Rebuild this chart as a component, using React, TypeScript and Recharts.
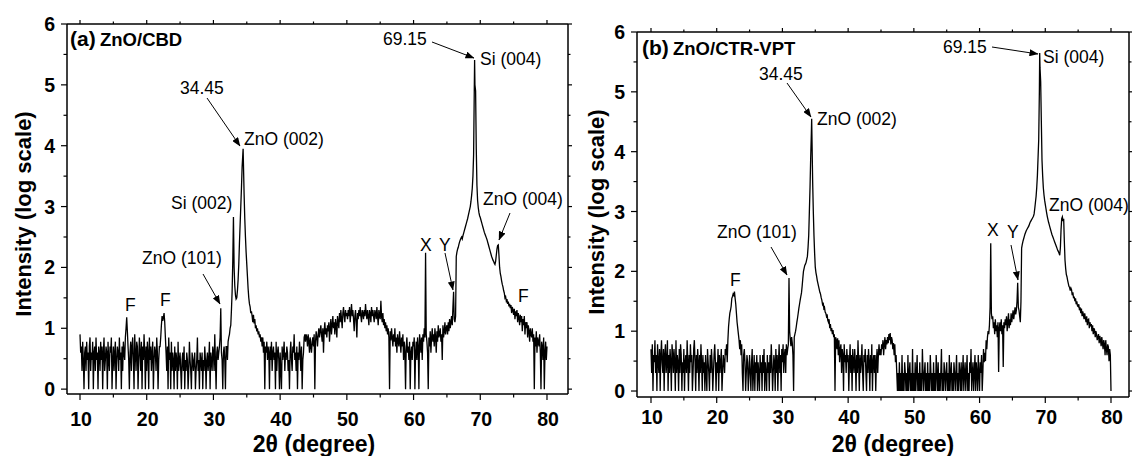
import React from 'react';
import { LineChart, Line, XAxis, YAxis } from 'recharts';

// ---- axis ticks ----
const xTicks = [10, 15, 20, 25, 30, 35, 40, 45, 50, 55, 60, 65, 70, 75, 80];
const yTicks = [0, 0.5, 1, 1.5, 2, 2.5, 3, 3.5, 4, 4.5, 5, 5.5, 6];
const xMajorLabels = [10, 20, 30, 40, 50, 60, 70, 80];
const yMajorLabels = [0, 1, 2, 3, 4, 5, 6];
const blockStarts = [10, 20, 30, 40, 50, 60, 70];

// ---- Panel (a) ZnO/CBD : log10 intensity on a 0.1° 2θ grid ----
const a10 = [
  .9, .6, .7, .3, .78, .48, 0, .6, .7, .3,
  .78, .48, .6, 0, .7, .85, .3, .6, .48, .78,
  0, .6, .7, .3, .85, .48, .6, 0, .7, .6,
  .3, .78, .48, .7, 0, .6, .85, .3, .48, .7,
  .6, 0, .78, .48, .3, .7, .6, .85, 0, .48,
  .7, .3, .6, .78, 0, .48, .7, .6, .3, .85,
  .48, .6, 0, .7, .3, .78, .6, .48, .85, 1.0,
  1.18, .95, .7, .48, 0, .6, .78, .3, .7, .85,
  .48, 0, .9, .6, .3, .78, .7, 0, .48, .85,
  .6, .3, .78, 0, .7, .48, .9, .6, 0, .7,
];
const a20 = [
  .3, .78, .6, 0, .85, .48, .7, .3, .6, .78,
  0, .48, .7, .6, .3, .85, .6, 0, .48, .7,
  .7, .85, 1.05, 1.2, 1.12, 1.18, 1.25, 1.1, .85, .6,
  .3, .7, 0, .85, .48, .6, 0, .78, .3, .6,
  .48, 0, .7, .3, .6, .48, 0, .78, .3, .48,
  .6, .3, 0, .48, .6, .3, .7, 0, .48, .3,
  .6, .48, 0, .3, .78, .48, .3, 0, .6, .48,
  .3, .48, .6, 0, .3, .48, .85, .3, .48, 0,
  .6, .48, .3, .6, 0, .48, .3, .7, .48, 0,
  .48, .6, .3, .48, .78, 0, .6, .48, .3, .7,
];
const a30 = [
  .6, .3, .9, .48, 0, .6, .7, .48, .6, .7,
  .85, 1.33, .6, .48, 0, .6, .7, .48, 0, .7,
  .7, .48, .78, .85, .9, 1.0, 1.05, 1.3, 1.6, 2.1,
  2.83, 2.0, 1.7, 1.55, 1.48, 1.5, 1.62, 1.8, 2.05, 2.4,
  2.7, 3.0, 3.3, 3.65, 3.85, 3.7, 3.2, 2.8, 2.5, 2.25,
  2.05, 1.85, 1.65, 1.5, 1.4, 1.35, 1.25, 1.28, 1.2, 1.1,
  1.22, 1.08, 1.15, 1.0, 1.05, .95, 1.0, .9, .95, .85,
  .9, .78, .85, .7, .85, .6, .78, 0, .7, .6,
  .78, .48, .7, .6, 0, .7, .48, .78, .3, .6,
  .7, .48, .6, 0, .78, .3, .6, .7, .48, 0,
];
const a40 = [
  .6, .3, 0, .7, .48, .6, .78, .3, .6, .48,
  .7, .6, .3, .48, 0, .6, .78, .48, .3, .7,
  .6, .9, .48, .6, .3, .7, 0, .6, .48, .78,
  .6, .3, .7, 0, .48, .6, .85, .9, .78, .9,
  .85, .7, .9, .78, .6, .85, .7, .6, .78, .85,
  .7, .9, 0, .78, .95, .85, .7, .9, 1.0, .85,
  .95, 1.05, .9, .78, 1.0, .6, .95, 1.1, .9, 1.0,
  .85, 1.05, .95, 1.1, .78, 1.0, 1.15, .9, 1.05, 1.2,
  1.0, 1.1, .9, 1.15, 1.05, .85, 1.2, 1.1, 1.0, 1.25,
  1.1, 1.3, 1.15, 1.0, 1.25, 1.35, 1.2, 1.1, 1.3, 1.2,
];
const a50 = [
  1.25, 1.15, 1.3, 1.2, 1.35, 1.1, 1.25, 1.4, 1.2, 1.3,
  1.15, .95, 1.2, 1.3, 1.1, .85, 1.25, 1.15, 1.3, 1.2,
  1.35, 1.2, 1.1, 1.3, 1.25, 1.15, 1.3, 1.2, 1.4, 1.25,
  1.15, 1.3, 1.2, 1.05, 1.3, 1.25, 1.1, 1.35, 1.2, 1.3,
  1.2, 1.1, 1.3, 1.25, 1.15, 1.35, 1.2, 1.05, 1.3, 1.2,
  1.15, 1.45, 1.2, 1.1, 1.25, 1.05, 1.15, 1.0, 1.1, .95,
  1.05, .9, 1.0, .85, 0, .95, .8, 1.0, .85, .7,
  .9, .78, 1.0, .7, .85, .6, .9, .78, .7, .95,
  .78, .6, .85, .7, .9, .48, .78, .6, 0, .7,
  .85, .6, .7, .48, .78, 0, .6, .7, .48, .78,
];
const a60 = [
  .7, .85, 0, .6, .78, .48, .85, .7, 0, .9,
  .78, .6, .85, .48, .9, .78, 1.0, .85, 2.24, .9,
  .78, .6, 0, .85, .7, .95, .6, .85, 1.0, .78,
  .9, .7, 1.0, .85, .6, .95, .78, 1.05, .85, .9,
  1.0, .78, .9, .48, 1.05, .85, .95, 1.1, .9, 1.0,
  1.05, .9, 1.1, .95, 1.15, 1.0, 1.1, 1.2, 1.05, 1.35,
  1.6, 1.15, 1.1, 1.2, 2.18, 2.25, 2.3, 2.33, 2.38, 2.42,
  2.45, 2.48, 2.5, 2.47, 2.52, 2.56, 2.6, 2.64, 2.68, 2.72,
  2.76, 2.8, 2.85, 2.9, 2.95, 3.0, 3.08, 3.18, 3.3, 3.5,
  3.85, 4.9, 5.0, 4.9, 3.95, 3.35, 3.1, 2.98, 2.9, 2.85,
];
const a70 = [
  2.82, 2.78, 2.74, 2.7, 2.66, 2.62, 2.58, 2.55, 2.52, 2.49,
  2.46, 2.42, 2.38, 2.34, 2.3, 2.26, 2.22, 2.18, 2.15, 2.12,
  2.1, 2.07, 2.05, 2.1, 2.2, 2.3, 2.36, 2.37, 2.2, 2.0,
  1.9, 1.85, 1.78, 1.72, 1.68, 1.62, 1.58, 1.5, 1.52, 1.45,
  1.48, 1.4, 1.44, 1.36, 1.4, 1.33, 1.38, 1.25, 1.35, 1.3,
  1.22, 1.32, 1.15, 1.28, 1.2, 1.3, 1.1, 1.25, 1.18, 1.05,
  1.22, 1.1, 1.2, .95, 1.15, 1.05, 1.2, .9, 1.1, 1.0,
  1.1, .85, 1.05, .95, .78, 1.0, .9, .85, 1.0, .78,
  .9, 0, .85, .7, .95, .6, .85, .78, .7, .9,
  .6, 0, .78, .7, .48, .85, 0, .6, .78, .48,
];
const aEnd = 0.7;
const aPeaks = [[34.45, 3.95], [69.15, 5.41]];

// ---- Panel (b) ZnO/CTR-VPT ----
const b10 = [
  .7, .3, .78, 0, .6, .48, .85, .3, .6, 0,
  .78, .48, .3, .7, 0, .6, .85, .48, .3, .7,
  0, .6, .78, .3, .48, .85, 0, .6, .3, .7,
  .48, 0, .78, .6, .3, .7, .48, 0, .85, .3,
  .6, .48, 0, .7, .3, .78, .6, 0, .48, .3,
  .7, 0, .48, .6, .3, .85, .48, 0, .6, .3,
  .78, .48, .6, 0, .3, .7, .85, .48, 0, .6,
  .3, .7, .48, 0, .6, .3, .78, .48, 0, .6,
  .3, .48, 0, .6, .3, 0, .7, .48, .3, 0,
  .6, .3, .7, .48, 0, .3, .6, .78, .48, 0,
];
const b20 = [
  .48, .3, .7, 0, .6, .3, .48, .7, 0, .3,
  .6, .48, .3, .7, .6, .78, .48, .85, 1.07, 1.2,
  1.3, 1.35, 1.42, 1.55, 1.58, 1.62, 1.6, 1.66, 1.55, 1.45,
  1.3, 1.15, 1.05, .95, .85, .7, .85, .6, .78, .3,
  0, .6, .7, .48, 0, .3, .6, .48, 0, .3,
  .6, .3, 0, .48, .7, 0, .3, .6, 0, .48,
  .3, .6, 0, .48, .3, 0, .6, .3, .48, 0,
  .6, .3, .7, 0, .48, .3, 0, .6, .3, .48,
  0, .6, .3, .78, .48, 0, .3, .6, .48, 0,
  .7, .3, .6, 0, .48, .78, .3, .6, 0, .7,
];
const b30 = [
  .48, .78, .3, .6, .7, .3, .78, .6, .7, .78,
  1.89, 1.0, .85, .75, .9, .8, .6, 0, .9, .95,
  1.0, 1.07, 1.15, 1.22, 1.3, 1.38, 1.45, 1.52, 1.58, 1.64,
  1.75, 1.88, 2.0, 2.05, 2.1, 2.12, 2.15, 2.2, 2.25, 2.4,
  2.6, 3.0, 3.4, 3.9, 4.3, 4.2, 3.5, 3.0, 2.6, 2.3,
  2.07, 1.98, 1.92, 1.85, 1.8, 1.75, 1.7, 1.65, 1.62, 1.56,
  1.52, 1.45, 1.48, 1.38, 1.4, 1.32, 1.3, 1.25, 1.28, 1.18,
  1.15, 1.2, 1.05, 1.12, 1.0, 1.05, .95, 1.02, .9, .95,
  0, .9, .85, .7, .88, .6, .85, .48, .7, .78,
  .3, .7, .6, 0, .78, .48, .6, .3, .7, .48,
];
const b40 = [
  .6, 0, .48, .78, .3, .6, 0, .7, .48, .3,
  .7, .48, 0, .6, .3, .85, .48, 0, .6, .3,
  .48, .78, .3, 0, .6, .48, .7, .3, 0, .6,
  .3, .7, .48, 0, .6, .3, .78, 0, .48, .6,
  .3, .6, 0, .48, .7, .3, .6, .78, .6, .7,
  .6, .78, .7, .85, .6, .78, .9, .7, .85, .78,
  .9, .8, .95, .85, .97, .78, .9, .85, .7, .8,
  .6, .78, .48, .6, .3, 0, .3, 0, .48, 0,
  .3, 0, .6, 0, .3, 0, .48, .3, 0, .3,
  0, .6, 0, .3, .48, 0, .3, 0, .7, 0,
];
const b50 = [
  .3, 0, .48, 0, .3, .6, 0, .3, 0, .48,
  0, .3, 0, .7, .3, 0, .3, .48, 0, .3,
  0, .48, 0, .3, 0, .6, .3, 0, .3, 0,
  .48, 0, .3, 0, .6, .3, 0, .48, 0, .3,
  0, .3, .7, 0, .3, 0, .48, .3, 0, .3,
  .48, 0, .3, 0, .6, 0, .3, .48, 0, .3,
  0, .48, .3, 0, .3, .6, 0, .3, 0, .48,
  .3, 0, .48, 0, .3, .6, 0, .3, .48, 0,
  .3, .6, 0, .3, 0, .48, .3, .7, 0, .3,
  .48, 0, .3, .6, 0, .48, .3, 0, .6, .3,
];
const b60 = [
  0, .48, .3, .6, 0, .3, .7, .48, .64, .5,
  .85, .7, .9, 1.0, .95, 1.1, 1.4, 2.47, 1.3, 1.2,
  1.25, 1.05, 1.15, .95, 1.2, 1.0, 1.1, .9, 1.15, .32,
  1.05, 1.15, 1.0, 1.2, .95, 1.1, .4, 1.15, 1.05, 1.2,
  1.1, 1.25, 1.0, 1.15, 1.3, 1.05, 1.2, 1.1, 1.3, 1.15,
  1.25, 1.35, 1.2, 1.3, 1.4, 1.28, 1.35, 1.5, 1.81, 1.4,
  1.35, 1.25, 1.15, 1.5, 2.39, 2.45, 2.5, 2.54, 2.58, 2.62,
  2.65, 2.68, 2.7, 2.72, 2.74, 2.76, 2.79, 2.82, 2.84, 2.86,
  2.88, 2.9, 2.92, 2.96, 3.05, 3.15, 3.25, 3.4, 3.6, 3.9,
  4.2, 5.0, 5.4, 5.17, 4.5, 3.86, 3.6, 3.4, 3.28, 3.19,
];
const b70 = [
  3.12, 3.05, 2.98, 2.92, 2.87, 2.82, 2.78, 2.74, 2.7, 2.66,
  2.62, 2.59, 2.56, 2.53, 2.5, 2.47, 2.44, 2.41, 2.38, 2.35,
  2.33, 2.3, 2.27, 2.4, 2.7, 2.88, 2.91, 2.84, 2.88, 2.5,
  2.19, 2.05, 1.95, 1.91, 1.85, 1.8, 1.75, 1.73, 1.68, 1.72,
  1.69, 1.6, 1.65, 1.55, 1.58, 1.5, 1.55, 1.45, 1.5, 1.42,
  1.41, 1.45, 1.35, 1.4, 1.3, 1.38, 1.25, 1.33, 1.28, 1.2,
  1.3, 1.22, 1.15, 1.25, 1.1, 1.19, 1.2, 1.05, 1.15, 1.08,
  1.12, 1.0, 1.1, .95, 1.05, 1.02, .9, 1.0, .95, .85,
  .9, .95, .8, .92, .85, .75, .9, .8, .7, .85,
  .78, .6, .85, .7, .6, .78, .74, .5, .7, .6,
];
const bEnd = 0;
const bPeaks = [[34.45, 4.55], [69.15, 5.65]];

type Pt = { x: number; y: number };

function buildSeries(blocks: number[][], endY: number, peaks: number[][]): Pt[] {
  const pts: Pt[] = [];
  blocks.forEach((blk, bi) => {
    blk.forEach((v, i) => {
      pts.push({ x: Math.round((blockStarts[bi] + i * 0.1) * 100) / 100, y: v });
    });
  });
  pts.push({ x: 80, y: endY });
  peaks.forEach(([x, y]) => pts.push({ x, y }));
  pts.sort((p, q) => p.x - q.x);
  return pts;
}

const dataA = buildSeries([a10, a20, a30, a40, a50, a60, a70], aEnd, aPeaks);
const dataB = buildSeries([b10, b20, b30, b40, b50, b60, b70], bEnd, bPeaks);

const FONT = "Arial, 'Liberation Sans', Helvetica, sans-serif";
const W = 1132;
const H = 456;

type Cfg = {
  l: number; t: number; r: number; b: number;
  xDomain: [number, number];
  yDomain: [number, number];
  xLabelDy: number;
  yLabelGap: number;
};

const cfgA: Cfg = { l: 67, t: 24, r: 568, b: 394, xDomain: [8.05, 83.15], yDomain: [-0.08, 6], xLabelDy: 31.5, yLabelGap: 12 };
const cfgB: Cfg = { l: 637, t: 32, r: 1129, b: 397, xDomain: [7.87, 82.74], yDomain: [-0.1, 6], xLabelDy: 26.5, yLabelGap: 12 };

const axisLine = { stroke: '#000', strokeWidth: 1.5 };

function Panel({ data, cfg }: { data: Pt[]; cfg: Cfg }) {
  const bottomTick = (p: any) => {
    const v = p.payload.value;
    const major = xMajorLabels.includes(v);
    return (
      <g>
        <line x1={p.x} x2={p.x} y1={p.y} y2={p.y + (major ? 6 : 3.5)} stroke="#000" strokeWidth={1.2} />
        {major && (
          <text x={p.x + 1} y={p.y + cfg.xLabelDy} textAnchor="middle" fontFamily={FONT} fontWeight="bold" fontSize={19.5} fill="#000">
            {v}
          </text>
        )}
      </g>
    );
  };
  const topTick = (p: any) => {
    const v = p.payload.value;
    const major = xMajorLabels.includes(v);
    return <line x1={p.x} x2={p.x} y1={p.y} y2={p.y - (major ? 4 : 2.5)} stroke="#000" strokeWidth={1.2} />;
  };
  const leftTick = (p: any) => {
    const v = p.payload.value;
    const major = yMajorLabels.includes(v);
    return (
      <g>
        <line x1={p.x} x2={p.x - (major ? 6 : 3.5)} y1={p.y} y2={p.y} stroke="#000" strokeWidth={1.2} />
        {major && (
          <text x={p.x - cfg.yLabelGap} y={p.y + 7} textAnchor="end" fontFamily={FONT} fontWeight="bold" fontSize={19.5} fill="#000">
            {v}
          </text>
        )}
      </g>
    );
  };
  const rightTick = (p: any) => {
    const v = p.payload.value;
    const major = yMajorLabels.includes(v);
    return <line x1={p.x} x2={p.x + (major ? 4 : 2.5)} y1={p.y} y2={p.y} stroke="#000" strokeWidth={1.2} />;
  };
  // each axis occupies 1px so that Recharts renders it; margins compensate
  return (
    <div style={{ position: 'absolute', left: 0, top: 0 }}>
      <LineChart width={W} height={H} data={data}
        margin={{ top: cfg.t - 1, left: cfg.l - 1, right: W - cfg.r - 1, bottom: H - cfg.b - 1 }}>
        <XAxis xAxisId="b" type="number" dataKey="x" domain={cfg.xDomain} allowDataOverflow ticks={xTicks} interval={0}
          height={1} tickSize={0} tickMargin={0} tickLine={false} axisLine={axisLine} tick={bottomTick} />
        <XAxis xAxisId="t" orientation="top" type="number" dataKey="x" domain={cfg.xDomain} allowDataOverflow ticks={xTicks} interval={0}
          height={1} tickSize={0} tickMargin={0} tickLine={false} axisLine={axisLine} tick={topTick} />
        <YAxis yAxisId="l" type="number" domain={cfg.yDomain} allowDataOverflow ticks={yTicks} interval={0}
          width={1} tickSize={0} tickMargin={0} tickLine={false} axisLine={axisLine} tick={leftTick} />
        <YAxis yAxisId="r" orientation="right" type="number" domain={cfg.yDomain} allowDataOverflow ticks={yTicks} interval={0}
          width={1} tickSize={0} tickMargin={0} tickLine={false} axisLine={axisLine} tick={rightTick} />
        <Line xAxisId="b" yAxisId="l" type="linear" dataKey="y" stroke="#000" strokeWidth={1.3} dot={false} activeDot={false} isAnimationActive={false} />
        <Line xAxisId="t" yAxisId="r" type="linear" dataKey="y" stroke="none" strokeWidth={0} dot={false} activeDot={false} isAnimationActive={false} />
      </LineChart>
    </div>
  );
}

type Note = { text: string; x: number; y: number };
const notesA: Note[] = [
  { text: '34.45', x: 180, y: 94 },
  { text: 'ZnO (002)', x: 244, y: 145 },
  { text: 'Si (002)', x: 171, y: 209 },
  { text: 'ZnO (101)', x: 142, y: 264 },
  { text: 'F', x: 125, y: 311 },
  { text: 'F', x: 160, y: 306 },
  { text: '69.15', x: 383, y: 45 },
  { text: 'Si (004)', x: 480, y: 65 },
  { text: 'ZnO (004)', x: 483, y: 205 },
  { text: 'X', x: 420, y: 251 },
  { text: 'Y', x: 439, y: 251 },
  { text: 'F', x: 518, y: 302 },
];
const notesB: Note[] = [
  { text: '34.45', x: 759, y: 80 },
  { text: 'ZnO (002)', x: 817, y: 125 },
  { text: 'ZnO (101)', x: 717, y: 238 },
  { text: 'F', x: 730, y: 286 },
  { text: '69.15', x: 943, y: 53 },
  { text: 'Si (004)', x: 1043, y: 63 },
  { text: 'ZnO (004)', x: 1049, y: 211 },
  { text: 'X', x: 987, y: 236 },
  { text: 'Y', x: 1007, y: 238 },
];
const arrows = [
  [207, 98, 240, 146],
  [203, 274, 220, 304],
  [432, 42, 474, 58],
  [510, 213, 499, 240],
  [445, 253, 453, 290],
  [787, 83, 811, 117],
  [771, 247, 787, 275],
  [992, 47, 1038, 54],
  [1011, 245, 1018, 280],
];

function Overlay() {
  return (
    <svg width={W} height={H} style={{ position: 'absolute', left: 0, top: 0, pointerEvents: 'none' }}>
      <defs>
        <marker id="ah" markerWidth="9" markerHeight="7" refX="8.5" refY="3.5" orient="auto" markerUnits="userSpaceOnUse">
          <path d="M0,0 L9,3.5 L0,7 z" fill="#000" />
        </marker>
      </defs>
      {arrows.map((a, i) => (
        <line key={i} x1={a[0]} y1={a[1]} x2={a[2]} y2={a[3]} stroke="#000" strokeWidth={1} markerEnd="url(#ah)" />
      ))}
      {[...notesA, ...notesB].map((n, i) => (
        <text key={i} x={n.x} y={n.y} fontFamily={FONT} fontSize={17.5} fill="#000">{n.text}</text>
      ))}
      <text x={70} y={46} fontFamily={FONT} fontWeight="bold" fontSize={21} fill="#000">(a)</text>
      <text x={100} y={46} fontFamily={FONT} fontWeight="bold" fontSize={18.5} fill="#000">ZnO/CBD</text>
      <text x={642} y={55} fontFamily={FONT} fontWeight="bold" fontSize={21} fill="#000">(b)</text>
      <text x={673} y={55} fontFamily={FONT} fontWeight="bold" fontSize={18.5} fill="#000">ZnO/CTR-VPT</text>
      <text x={23} y={214} transform="rotate(-90 23 214)" textAnchor="middle" dominantBaseline="central" fontFamily={FONT} fontWeight="bold" fontSize={22} fill="#000">Intensity (log scale)</text>
      <text x={596} y={212} transform="rotate(-90 596 212)" textAnchor="middle" dominantBaseline="central" fontFamily={FONT} fontWeight="bold" fontSize={22} fill="#000">Intensity (log scale)</text>
      <text x={314} y={452} textAnchor="middle" fontFamily={FONT} fontWeight="bold" fontSize={23} fill="#000">2θ (degree)</text>
      <text x={893} y={452} textAnchor="middle" fontFamily={FONT} fontWeight="bold" fontSize={23} fill="#000">2θ (degree)</text>
    </svg>
  );
}

export default function App() {
  return (
    <div style={{ position: 'absolute', left: 0, top: 0, width: W, height: H, background: '#fff', overflow: 'hidden' }}>
      <Panel data={dataA} cfg={cfgA} />
      <Panel data={dataB} cfg={cfgB} />
      <Overlay />
    </div>
  );
}
